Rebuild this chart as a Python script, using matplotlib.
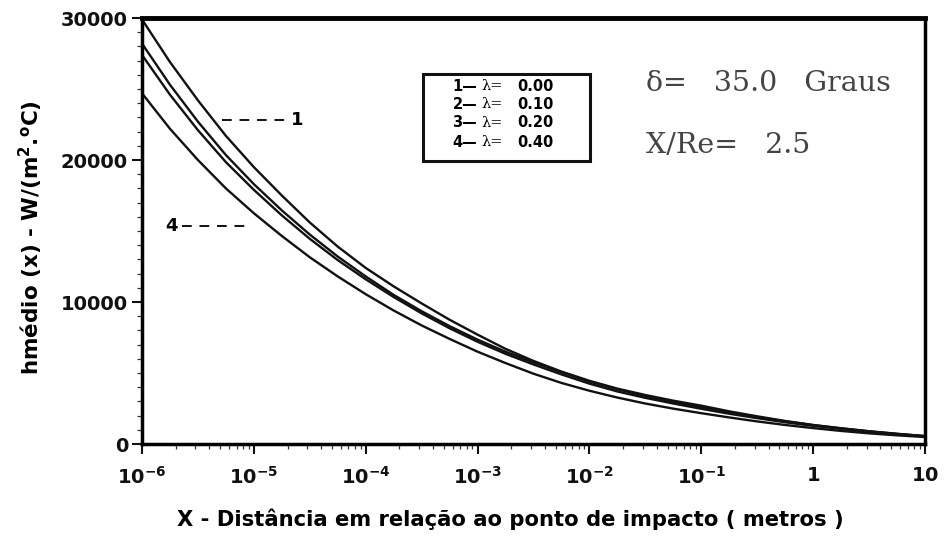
import numpy as np
import matplotlib
matplotlib.use('Agg')
import matplotlib.pyplot as plt
from matplotlib.patches import Rectangle
from matplotlib.ticker import FixedLocator, FixedFormatter, MultipleLocator, LogLocator, NullFormatter


# dados: expoente de x (x em metros) e h medio em W/(m2 C)
expoente_x = [-6.0, -5.75, -5.5, -5.25, -5.0, -4.75, -4.5, -4.25, -4.0, -3.75,
              -3.5, -3.25, -3.0, -2.75, -2.5, -2.25, -2.0, -1.75, -1.5, -1.25,
              -1.0, -0.75, -0.5, -0.25, 0.0, 0.25, 0.5, 0.75, 1.0]
h_lambda_000 = [29900, 26900, 24200, 21700, 19500, 17500, 15600, 13900, 12400, 11100,
                9900, 8750, 7700, 6700, 5850, 5100, 4450, 3900, 3450, 3050,
                2700, 2300, 1950, 1620, 1340, 1110, 900, 720, 560]
h_lambda_010 = [28200, 25300, 22700, 20350, 18300, 16450, 14750, 13200, 11800, 10500,
                9350, 8300, 7350, 6500, 5750, 5050, 4400, 3850, 3380, 2970,
                2600, 2230, 1900, 1600, 1330, 1100, 890, 710, 550]
h_lambda_020 = [27400, 24600, 22100, 19850, 17900, 16100, 14450, 12950, 11600, 10350,
                9200, 8150, 7200, 6350, 5600, 4900, 4250, 3700, 3250, 2850,
                2480, 2130, 1820, 1530, 1280, 1060, 860, 690, 540]
h_lambda_040 = [24700, 22200, 20000, 18000, 16250, 14650, 13150, 11800, 10550, 9400,
                8350, 7400, 6500, 5700, 4950, 4300, 3750, 3270, 2850, 2490,
                2170, 1870, 1590, 1340, 1120, 920, 750, 610, 490]

curvas = [h_lambda_000, h_lambda_010, h_lambda_020, h_lambda_040]
legenda_num = ['1', '2', '3', '4']
legenda_lambda = ['0.00', '0.10', '0.20', '0.40']

x_ticks = [1e-6, 1e-5, 1e-4, 1e-3, 1e-2, 1e-1, 1, 10]
x_ticklabels = ['$10^{-6}$', '$10^{-5}$', '$10^{-4}$', '$10^{-3}$',
                '$10^{-2}$', '$10^{-1}$', '$1$', '$10$']
y_ticks = [0, 10000, 20000, 30000]


plt.rcParams['font.family'] = ['DejaVu Sans']
plt.rcParams['font.weight'] = 'bold'
plt.rcParams['mathtext.fontset'] = 'dejavusans'
plt.rcParams['mathtext.default'] = 'bf'

x = 10.0 ** np.array(expoente_x)

fig = plt.figure(figsize=(9.44, 5.36), dpi=100)
ax = fig.add_axes([142/944, 1 - 444/536, (925-142)/944, (444-18)/536])

for h in curvas:
    ax.plot(x, h, color='#111111', lw=1.7, solid_capstyle='round')

ax.set_xscale('log')
ax.set_xlim(1e-6, 10)
ax.set_ylim(0, 30000)

# eixos / ticks
ax.xaxis.set_major_locator(FixedLocator(x_ticks))
ax.xaxis.set_major_formatter(FixedFormatter(x_ticklabels))
ax.xaxis.set_minor_locator(LogLocator(base=10, subs=np.arange(2, 10)))
ax.xaxis.set_minor_formatter(NullFormatter())
ax.set_yticks(y_ticks)
ax.set_yticklabels([str(v) for v in y_ticks])
ax.yaxis.set_minor_locator(MultipleLocator(1000))

ax.tick_params(axis='both', which='major', direction='out', length=7, width=1.5,
               labelsize=14, colors='#111111')
ax.tick_params(axis='both', which='minor', direction='out', length=3.5, width=0.9,
               colors='#333333')
ax.tick_params(axis='x', which='major', pad=9)
ax.tick_params(axis='y', which='major', pad=3)

ax.spines['top'].set_linewidth(3.5)
ax.spines['left'].set_linewidth(2.5)
ax.spines['right'].set_linewidth(2.5)
ax.spines['bottom'].set_linewidth(2.5)

ax.set_ylabel('hmédio (x) - W/(m$^{2}$.$^{o}$C)', fontsize=15.5, fontweight='bold')
ax.yaxis.set_label_coords(-0.124, 0.485)
ax.set_xlabel('X - Distância em relação ao ponto de impacto ( metros )',
              fontsize=15.2, fontweight='bold')
ax.xaxis.set_label_coords(0.471, -0.176)
ax.xaxis.label.set_va('center')

# rotulos das curvas com linha tracejada
ax.plot([0.102, 0.186], [0.761, 0.761], transform=ax.transAxes, ls=(0, (5, 4)),
        color='#111111', lw=1.4)
ax.text(0.19, 0.761, '1', transform=ax.transAxes, fontsize=13, fontweight='bold',
        va='center', ha='left')
ax.plot([0.051, 0.135], [0.512, 0.512], transform=ax.transAxes, ls=(0, (5, 4)),
        color='#111111', lw=1.4)
ax.text(0.046, 0.512, '4', transform=ax.transAxes, fontsize=13, fontweight='bold',
        va='center', ha='right')

# caixa da legenda
ax.add_patch(Rectangle((0.359, 0.664), 0.213, 0.205, transform=ax.transAxes,
                       fill=False, lw=2.2, edgecolor='#111111'))
linhas_y = [0.840, 0.797, 0.754, 0.708]
for i in range(4):
    yy = linhas_y[i]
    ax.text(0.428, yy, legenda_num[i] + '—', transform=ax.transAxes, fontsize=10.5,
            fontweight='bold', ha='right', va='center')
    ax.text(0.433, yy, 'λ=', transform=ax.transAxes, fontsize=10.5, fontweight='normal',
            family='DejaVu Serif', ha='left', va='center')
    ax.text(0.479, yy, legenda_lambda[i], transform=ax.transAxes, fontsize=10.5,
            fontweight='bold', ha='left', va='center')

# parametros
ax.text(0.644, 0.847, 'δ=   35.0   Graus', transform=ax.transAxes, fontsize=20.5,
        family='DejaVu Serif', fontweight='normal', color='#444444',
        va='center', ha='left')
ax.text(0.644, 0.70, 'X/Re=   2.5', transform=ax.transAxes, fontsize=20.5,
        family='DejaVu Serif', fontweight='normal', color='#444444',
        va='center', ha='left')

fig.savefig('out.png', dpi=100)
